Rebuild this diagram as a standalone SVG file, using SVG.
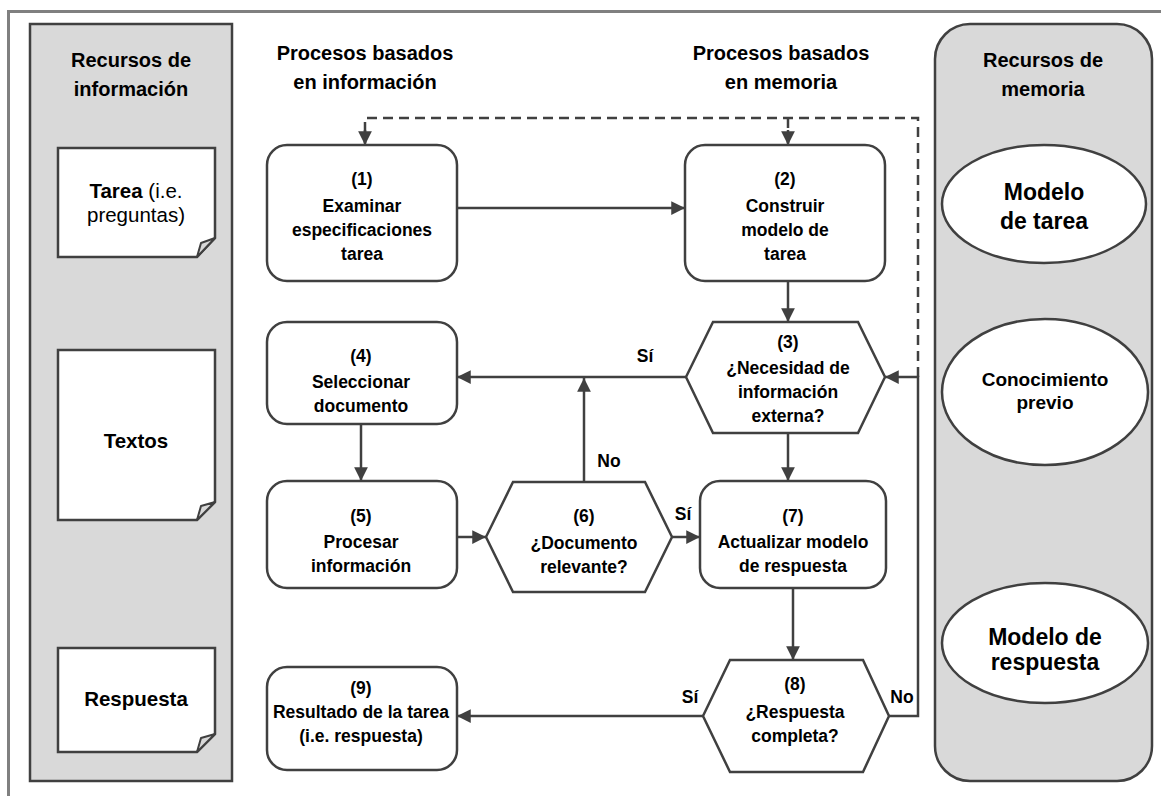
<svg xmlns="http://www.w3.org/2000/svg" width="1161" height="796" viewBox="0 0 1161 796">
<defs>
<marker id="ah" viewBox="0 0 10 10" refX="10" refY="5" markerWidth="5.5" markerHeight="5.5" orient="auto" markerUnits="strokeWidth">
<path d="M0,0 L10,5 L0,10 Z" fill="#404040"/>
</marker>
<style>
.panel{fill:#d9d9d9;stroke:#404040;stroke-width:2.5}
.node{fill:#ffffff;stroke:#404040;stroke-width:2.5}
.fold{fill:#d9d9d9;stroke:#404040;stroke-width:2;stroke-linejoin:round}
.c{fill:none;stroke:#404040;stroke-width:2.5}
.arr{marker-end:url(#ah)}
.dash{stroke-dasharray:10 6}
text{font-family:"Liberation Sans",Arial,sans-serif;font-weight:bold;fill:#000;text-anchor:middle}
.t{font-size:17.5px}
.d{font-size:20.5px}
.h{font-size:20px}
.lab{font-size:17.5px}
.n{font-weight:normal}
</style>
</defs>
<rect x="0" y="0" width="1161" height="796" fill="#ffffff"/>
<path d="M8.5,796 V11.5 H1161" fill="none" stroke="#808080" stroke-width="3"/>

<g id="panel-info">
<rect class="panel" x="30" y="24" width="202" height="757"/>
<text class="h" x="131" y="67">Recursos de</text>
<text class="h" x="131" y="96">información</text>
</g>
<g id="doc-tarea">
<path class="node" d="M58,148 H215 V238 L197,257 H58 Z"/>
<path class="fold" d="M215,238 L197,257 L201,243 Z"/>
<text class="d" x="136" y="198">Tarea <tspan class="n">(i.e.</tspan></text>
<text class="d n" x="136" y="222">preguntas)</text>
</g>
<g id="doc-textos">
<path class="node" d="M58,350 H215 V502 L197,520 H58 Z"/>
<path class="fold" d="M215,502 L197,520 L201,506 Z"/>
<text class="d" x="136" y="448">Textos</text>
</g>
<g id="doc-respuesta">
<path class="node" d="M58,648 H215 V734 L197,752 H58 Z"/>
<path class="fold" d="M215,734 L197,752 L201,738 Z"/>
<text class="d" x="136" y="706">Respuesta</text>
</g>

<g id="panel-memoria">
<rect class="panel" x="935" y="24" width="217" height="757" rx="35" ry="35"/>
<text class="h" x="1043" y="67">Recursos de</text>
<text class="h" x="1043" y="96">memoria</text>
</g>
<g id="mem-tarea">
<ellipse class="node" cx="1044" cy="204" rx="102" ry="59"/>
<text style="font-size:23px" x="1044" y="200">Modelo</text>
<text style="font-size:23px" x="1044" y="229">de tarea</text>
</g>
<g id="mem-conocimiento">
<ellipse class="node" cx="1045" cy="392" rx="103" ry="73"/>
<text style="font-size:19px" x="1045" y="386">Conocimiento</text>
<text style="font-size:19px" x="1045" y="409">previo</text>
</g>
<g id="mem-respuesta">
<ellipse class="node" cx="1045" cy="643" rx="103" ry="60"/>
<text style="font-size:23px" x="1045" y="645">Modelo de</text>
<text style="font-size:23px" x="1045" y="670">respuesta</text>
</g>

<g id="headers">
<text class="h" x="365" y="60">Procesos basados</text>
<text class="h" x="365" y="89">en información</text>
<text class="h" x="781" y="60">Procesos basados</text>
<text class="h" x="781" y="89">en memoria</text>
</g>

<g id="connectors">
<path class="c dash" d="M918,377 V118 H365 V143"/>
<path class="c arr" d="M365,130 V145"/>
<path class="c dash" d="M788,118 V143"/>
<path class="c arr" d="M788,130 V145"/>
<path class="c arr" d="M457,208 H685"/>
<path class="c arr" d="M788,281 V322"/>
<path class="c arr" d="M686,377 H457"/>
<path class="c arr" d="M584,482 V378"/>
<path class="c arr" d="M361,424 V481"/>
<path class="c arr" d="M457,537 H486"/>
<path class="c arr" d="M672,537 H700"/>
<path class="c arr" d="M788,433 V481"/>
<path class="c arr" d="M793,588 V660"/>
<path class="c arr" d="M703,716 H457"/>
<path class="c arr" d="M889,716 H918 V377 H885"/>
<text class="lab" x="645" y="362">Sí</text>
<text class="lab" x="609" y="467">No</text>
<text class="lab" x="683" y="520">Sí</text>
<text class="lab" x="690" y="703">Sí</text>
<text class="lab" x="902" y="703">No</text>
</g>

<g id="n1">
<rect class="node" x="267" y="145" width="190" height="136" rx="20"/>
<text class="t" x="362" y="185">(1)</text>
<text class="t" x="362" y="212">Examinar</text>
<text class="t" x="362" y="236">especificaciones</text>
<text class="t" x="362" y="260">tarea</text>
</g>
<g id="n2">
<rect class="node" x="685" y="145" width="200" height="136" rx="20"/>
<text class="t" x="785" y="185">(2)</text>
<text class="t" x="785" y="212">Construir</text>
<text class="t" x="785" y="236">modelo de</text>
<text class="t" x="785" y="260">tarea</text>
</g>
<g id="n3">
<polygon class="node" points="686,377 713,322 858,322 885,377 858,433 713,433"/>
<text class="t" x="788" y="348">(3)</text>
<text class="t" x="788" y="374">¿Necesidad de</text>
<text class="t" x="788" y="398">información</text>
<text class="t" x="788" y="422">externa?</text>
</g>
<g id="n4">
<rect class="node" x="267" y="322" width="190" height="102" rx="20"/>
<text class="t" x="361" y="362">(4)</text>
<text class="t" x="361" y="388">Seleccionar</text>
<text class="t" x="361" y="412">documento</text>
</g>
<g id="n5">
<rect class="node" x="267" y="481" width="190" height="107" rx="20"/>
<text class="t" x="361" y="522">(5)</text>
<text class="t" x="361" y="548">Procesar</text>
<text class="t" x="361" y="572">información</text>
</g>
<g id="n6">
<polygon class="node" points="486,537 513,482 645,482 672,537 645,592 513,592"/>
<text class="t" x="584" y="522">(6)</text>
<text class="t" x="584" y="549">¿Documento</text>
<text class="t" x="584" y="573">relevante?</text>
</g>
<g id="n7">
<rect class="node" x="700" y="481" width="186" height="107" rx="20"/>
<text class="t" x="793" y="522">(7)</text>
<text class="t" x="793" y="548">Actualizar modelo</text>
<text class="t" x="793" y="572">de respuesta</text>
</g>
<g id="n8">
<polygon class="node" points="703,716 730,660 863,660 889,716 863,772 730,772"/>
<text class="t" x="795" y="690">(8)</text>
<text class="t" x="795" y="718">¿Respuesta</text>
<text class="t" x="795" y="742">completa?</text>
</g>
<g id="n9">
<rect class="node" x="267" y="667" width="190" height="103" rx="20"/>
<text class="t" x="361" y="694">(9)</text>
<text class="t" x="361" y="718">Resultado de la tarea</text>
<text class="t" x="361" y="742">(i.e. respuesta)</text>
</g>
</svg>
